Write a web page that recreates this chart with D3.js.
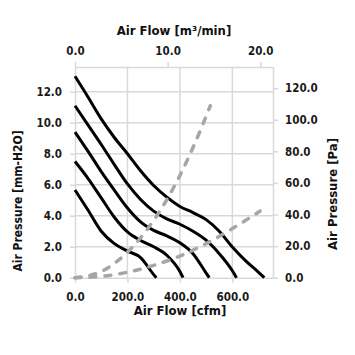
<!DOCTYPE html>
<html><head><meta charset="utf-8">
<script src="https://cdn.jsdelivr.net/npm/d3@7/dist/d3.min.js"></script>
<style>
html,body{margin:0;padding:0;background:#fff;}
svg{display:block;}
text{font-family:"Liberation Sans Narrow","Arial Narrow","DejaVu Sans Condensed","Liberation Sans",sans-serif;font-weight:bold;}
</style></head>
<body>
<svg id="c" width="355" height="355"></svg>
<script>
// ---- data ----
const flow1 = [0,50,100,150,200,250,300,350,400,450,500,550,600,650,700,722];
const pres1 = [13.0,11.65,10.25,9.05,8.0,6.9,5.95,5.2,4.6,4.2,3.75,3.0,1.98,1.1,0.35,0];
const flow2 = [0,50,100,150,200,250,300,350,400,450,500,550,600,616];
const pres2 = [11.1,9.85,8.6,7.3,6.05,5.05,4.3,3.8,3.45,3.0,2.42,1.55,0.45,0];
const flow3 = [0,50,100,150,200,250,300,350,400,450,500,512];
const pres3 = [9.4,8.15,6.85,5.65,4.5,3.6,3.05,2.7,2.25,1.55,0.3,0];
const flow4 = [0,50,100,150,200,250,300,350,400,412];
const pres4 = [7.5,6.4,5.15,3.9,2.95,2.4,2.0,1.45,0.4,0];
const flow5 = [0,50,100,150,200,250,300,310];
const pres5 = [5.66,4.35,3.0,2.2,1.72,1.3,0.2,0];
const sysFlowA = [0,100,200,300,400,450,516];
const sysPresA = [0,0.4,1.65,3.7,6.6,8.4,11.1];
const sysFlowB = [0,100,200,300,400,500,600,706];
const sysPresB = [0,0.09,0.35,0.8,1.4,2.2,3.17,4.3];

const xTicksCfm = [0,200,400,600];
const xTicksM3 = [0,10,20];
const yTicksMm = [0,2,4,6,8,10,12];
const yTicksPa = [0,20,40,60,80,100,120];
const CFM_PER_M3MIN = 35.3147;
const PA_PER_MM = 9.80665;
const xMaxCfm = 755, yMaxMm = 13.6;

// ---- layout ----
const L = 75, R = 273, T = 67, B = 277.7;
const svg = d3.select("#c");
const x = d3.scaleLinear().domain([0,xMaxCfm]).range([L,R]);
const xTop = d3.scaleLinear().domain([0,xMaxCfm/CFM_PER_M3MIN]).range([L,R]);
const y = d3.scaleLinear().domain([0,yMaxMm]).range([B,T]);
const yR = d3.scaleLinear().domain([0,yMaxMm*PA_PER_MM]).range([B,T]);

const gridC = "#d9d9d9";
// gridlines
svg.append("g").selectAll("line").data(yTicksMm.filter(d=>d>0)).join("line")
  .attr("x1",L).attr("x2",R).attr("y1",d=>y(d)).attr("y2",d=>y(d))
  .attr("stroke",gridC).attr("stroke-width",1.5);
svg.append("g").selectAll("line").data(xTicksCfm.filter(d=>d>0)).join("line")
  .attr("y1",T).attr("y2",B).attr("x1",d=>x(d)).attr("x2",d=>x(d))
  .attr("stroke",gridC).attr("stroke-width",1.5);

function styleAxis(g, fs){
  g.select(".domain").attr("stroke",gridC).attr("stroke-width",1.5);
  g.selectAll(".tick line").attr("stroke",gridC).attr("stroke-width",1.5);
  g.selectAll(".tick text").attr("fill","#1a1a1a").style("font-size",fs+"px")
    .style("font-family",null);
}
const fmt = d3.format(".1f");
const gB = svg.append("g").attr("transform",`translate(0,${B})`)
  .call(d3.axisBottom(x).tickValues(xTicksCfm).tickFormat(fmt).tickSize(5).tickSizeOuter(0).tickPadding(10));
styleAxis(gB,11.5);
const gT = svg.append("g").attr("transform",`translate(0,${T})`)
  .call(d3.axisTop(xTop).tickValues(xTicksM3).tickFormat(fmt).tickSize(5).tickSizeOuter(0).tickPadding(7));
styleAxis(gT,11.5);
const gL = svg.append("g").attr("transform",`translate(${L},0)`)
  .call(d3.axisLeft(y).tickValues(yTicksMm).tickFormat(fmt).tickSize(5).tickSizeOuter(0).tickPadding(8));
styleAxis(gL,11.5);
const gR = svg.append("g").attr("transform",`translate(${R},0)`)
  .call(d3.axisRight(yR).tickValues(yTicksPa).tickFormat(fmt).tickSize(5).tickSizeOuter(0).tickPadding(7));
styleAxis(gR,11.5);

// curves
const line = d3.line().x(d=>x(d[0])).y(d=>y(d[1])).curve(d3.curveMonotoneX);
const fans = [[flow1,pres1],[flow2,pres2],[flow3,pres3],[flow4,pres4],[flow5,pres5]];
svg.append("g").selectAll("path").data(fans).join("path")
  .attr("d",f=>line(d3.zip(f[0],f[1])))
  .attr("fill","none").attr("stroke","#000").attr("stroke-width",3);
const syss = [[sysFlowA,sysPresA],[sysFlowB,sysPresB]];
svg.append("g").selectAll("path").data(syss).join("path")
  .attr("d",f=>line(d3.zip(f[0],f[1])))
  .attr("fill","none").attr("stroke","#a6a6a6").attr("stroke-width",3.5)
  .attr("stroke-dasharray","6,9").attr("stroke-linecap","round");

// titles
const tfs = 13;
svg.append("text").attr("x",(L+R)/2+0).attr("y",35).attr("text-anchor","middle")
  .style("font-size",tfs+"px").attr("fill","#111").text("Air Flow [m³/min]");
svg.append("text").attr("x",(L+R)/2+6).attr("y",315).attr("text-anchor","middle")
  .style("font-size",tfs+"px").attr("fill","#111").text("Air Flow [cfm]");
svg.append("text").attr("transform","translate(22,201) rotate(-90)").attr("text-anchor","middle")
  .style("font-size","12px").attr("fill","#111").text("Air Pressure [mm-H2O]");
svg.append("text").attr("transform","translate(337,194) rotate(-90)").attr("text-anchor","middle")
  .style("font-size",tfs+"px").attr("fill","#111").text("Air Pressure [Pa]");
</script>
</body></html>
